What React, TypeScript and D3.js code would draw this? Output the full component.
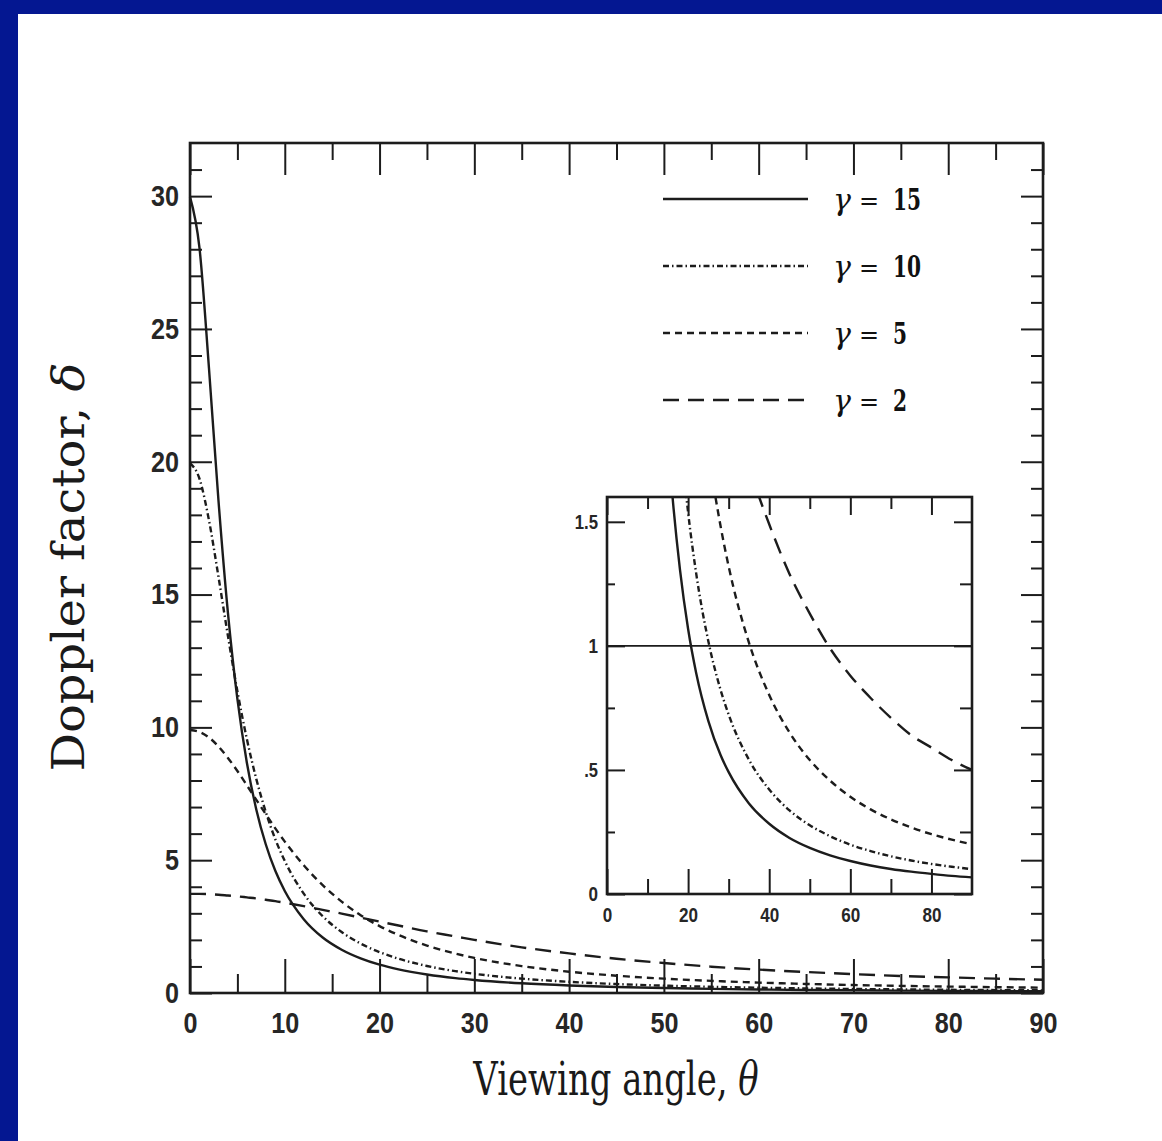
import React, { useEffect, useRef } from 'react';
import * as d3 from 'd3';

// viewing angle (deg) and Doppler factor
const angles = [0, 1, 2, 3, 4, 5, 6, 7, 8, 9, 10, 12, 14, 16, 18, 20, 22, 25, 28, 30, 35, 40, 45, 50, 55, 60, 65, 70, 75, 80, 85, 90];
const gamma15 = [29.97, 28.05, 23.53, 18.56, 14.32, 11.07, 8.67, 6.9, 5.59, 4.6, 3.84, 2.78, 2.09, 1.631, 1.306, 1.068, 0.89, 0.697, 0.56, 0.491, 0.365, 0.283, 0.226, 0.186, 0.156, 0.133, 0.115, 0.101, 0.09, 0.081, 0.073, 0.067];
const gamma10 = [19.95, 19.36, 17.8, 15.68, 13.45, 11.36, 9.56, 8.05, 6.81, 5.79, 4.97, 3.74, 2.89, 2.296, 1.862, 1.538, 1.291, 1.018, 0.823, 0.723, 0.541, 0.421, 0.337, 0.277, 0.233, 0.199, 0.173, 0.152, 0.135, 0.121, 0.11, 0.1];
const gamma5 = [9.9, 9.83, 9.62, 9.28, 8.85, 8.36, 7.82, 7.27, 6.73, 6.2, 5.7, 4.81, 4.06, 3.44, 2.93, 2.52, 2.185, 1.786, 1.483, 1.32, 1.013, 0.802, 0.651, 0.54, 0.457, 0.392, 0.341, 0.301, 0.268, 0.241, 0.219, 0.2];
const gamma2 = [3.73, 3.73, 3.72, 3.7, 3.67, 3.64, 3.6, 3.56, 3.51, 3.46, 3.4, 3.27, 3.13, 2.99, 2.84, 2.69, 2.54, 2.32, 2.13, 2.0, 1.72, 1.49, 1.29, 1.13, 0.99, 0.88, 0.79, 0.71, 0.64, 0.59, 0.54, 0.5];

const seriesNames = ['15', '10', '5', '2'];
const seriesValues = [gamma15, gamma10, gamma5, gamma2];
const dashes = ['none', '6,3,1.5,3', '7,5', '16,9'];

const xTicks = [0, 10, 20, 30, 40, 50, 60, 70, 80, 90];
const yTicks = [0, 5, 10, 15, 20, 25, 30];
const insetXTicks = [0, 20, 40, 60, 80];
const insetYTicks = [0, 0.5, 1, 1.5];
const insetYLabels = ['0', '.5', '1', '1.5'];

const INK = '#1c1c1c';
const TICK_FONT = '"Liberation Sans", Arial, sans-serif';
const SERIF = '"DejaVu Serif", "Liberation Serif", serif';

const App = () => {
  const svgRef = useRef<SVGSVGElement>(null);

  useEffect(() => {
    const svg = d3.select(svgRef.current);
    svg.selectAll('*').remove();

    // slide background
    svg.append('rect').attr('width', 1162).attr('height', 1141).attr('fill', '#fff');
    svg.append('rect').attr('width', 1162).attr('height', 14).attr('fill', '#041791');
    svg.append('rect').attr('width', 18).attr('height', 1141).attr('fill', '#041791');

    const x = d3.scaleLinear().domain([0, 90]).range([190, 1043]);
    const y = d3.scaleLinear().domain([0, 32]).range([993, 143]);

    // condensed look of the scanned tick digits
    const styleAxis = (g, size, digitW) => {
      g.select('.domain').remove();
      g.selectAll('line').attr('stroke', INK).attr('stroke-width', 2);
      g.attr('font-family', TICK_FONT).attr('font-size', size).attr('font-weight', 'bold');
      g.selectAll('text')
        .attr('fill', '#262626')
        .each(function () {
          const s = d3.select(this).text();
          if (!s) return;
          const n = s.split('').reduce((a, c) => a + (c === '.' ? 0.45 : 1), 0);
          d3.select(this).attr('textLength', n * digitW).attr('lengthAdjust', 'spacingAndGlyphs');
        });
    };

    const drawAxes = (xs, ys, o) => {
      const [x0, x1] = xs.range();
      const [yb, yt] = ys.range();
      const blank = () => '';
      const add = (axis, tr) => {
        const g = svg.append('g').attr('transform', tr).call(axis);
        styleAxis(g, o.font, o.digitW);
        return g;
      };
      add(d3.axisBottom(xs).tickValues(o.xMajor).tickSize(-o.xMajorLen).tickPadding(o.xPad).tickFormat(d3.format('d')), `translate(0,${yb})`);
      add(d3.axisBottom(xs).tickValues(o.xMinor).tickSize(-o.xMinorLen).tickFormat(blank), `translate(0,${yb})`);
      add(d3.axisTop(xs).tickValues(o.xMajor).tickSize(-o.xTopMajor).tickFormat(blank), `translate(0,${yt})`);
      add(d3.axisTop(xs).tickValues(o.xMinor).tickSize(-o.xTopMinor).tickFormat(blank), `translate(0,${yt})`);
      add(d3.axisLeft(ys).tickValues(o.yMajor).tickSize(-o.yMajorLen).tickPadding(o.yPad).tickFormat(o.yFormat), `translate(${x0},0)`);
      add(d3.axisLeft(ys).tickValues(o.yMinor).tickSize(-o.yMinorLen).tickFormat(blank), `translate(${x0},0)`);
      add(d3.axisRight(ys).tickValues(o.yMajor).tickSize(-o.yMajorLen).tickFormat(blank), `translate(${x1},0)`);
      add(d3.axisRight(ys).tickValues(o.yMinor).tickSize(-o.yRightMinor).tickFormat(blank), `translate(${x1},0)`);
      svg.append('rect')
        .attr('x', x0).attr('y', yt)
        .attr('width', x1 - x0).attr('height', yb - yt)
        .attr('fill', 'none').attr('stroke', INK).attr('stroke-width', 2.6);
    };

    // main panel curves
    const line = d3.line<number>()
      .x((_, i) => x(angles[i]))
      .y(d => y(d))
      .curve(d3.curveMonotoneX);

    seriesValues.forEach((vals, i) => {
      svg.append('path')
        .datum(vals)
        .attr('fill', 'none')
        .attr('stroke', INK)
        .attr('stroke-width', 2.4)
        .attr('stroke-dasharray', dashes[i])
        .attr('d', line);
    });

    drawAxes(x, y, {
      xMajor: xTicks,
      xMinor: d3.range(5, 90, 10),
      xMajorLen: 34, xMinorLen: 19, xTopMajor: 32, xTopMinor: 17, xPad: 19,
      yMajor: yTicks,
      yMinor: d3.range(1, 32).filter(v => v % 5 !== 0),
      yMajorLen: 22, yMinorLen: 12, yRightMinor: 12, yPad: 11,
      yFormat: d3.format('d'),
      font: 29, digitW: 14,
    });

    // legend
    const legend = svg.append('g');
    seriesNames.forEach((name, i) => {
      const ly = 199 + i * 67;
      legend.append('line')
        .attr('x1', 663).attr('x2', 808)
        .attr('y1', ly).attr('y2', ly)
        .attr('stroke', INK).attr('stroke-width', 2.4)
        .attr('stroke-dasharray', dashes[i]);
      const t = legend.append('text')
        .attr('y', ly + 11)
        .attr('font-family', SERIF)
        .attr('font-size', 30)
        .attr('fill', '#111');
      t.append('tspan').attr('x', 833).attr('font-style', 'italic').text('γ');
      t.append('tspan').attr('x', 859).attr('font-size', 24).attr('dy', -1).text('=');
      t.append('tspan').attr('x', 893).attr('dy', 1).attr('font-weight', 'bold')
        .attr('textLength', name.length * 14).attr('lengthAdjust', 'spacingAndGlyphs').text(name);
    });

    // inset panel
    const ix = d3.scaleLinear().domain([0, 90]).range([607, 972]);
    const iy = d3.scaleLinear().domain([0, 1.6]).range([894, 497]);

    svg.append('rect')
      .attr('x', 607).attr('y', 497).attr('width', 365).attr('height', 397)
      .attr('fill', '#fff');
    svg.append('clipPath').attr('id', 'inset-clip')
      .append('rect').attr('x', 607).attr('y', 497).attr('width', 365).attr('height', 397);

    svg.append('line')
      .attr('x1', ix(0)).attr('x2', ix(90))
      .attr('y1', iy(1)).attr('y2', iy(1))
      .attr('stroke', INK).attr('stroke-width', 1.8);

    const iline = d3.line<number>()
      .x((_, i) => ix(angles[i]))
      .y(d => iy(d))
      .curve(d3.curveMonotoneX);

    const curves = svg.append('g').attr('clip-path', 'url(#inset-clip)');
    seriesValues.forEach((vals, i) => {
      curves.append('path')
        .datum(vals)
        .attr('fill', 'none')
        .attr('stroke', INK)
        .attr('stroke-width', 2.4)
        .attr('stroke-dasharray', dashes[i])
        .attr('d', iline);
    });

    drawAxes(ix, iy, {
      xMajor: insetXTicks,
      xMinor: [10, 30, 50, 70],
      xMajorLen: 25, xMinorLen: 15, xTopMajor: 18, xTopMinor: 12, xPad: 14,
      yMajor: insetYTicks,
      yMinor: [0.25, 0.75, 1.25],
      yMajorLen: 18, yMinorLen: 8, yRightMinor: 12, yPad: 9,
      yFormat: (d, i) => insetYLabels[i],
      font: 20, digitW: 9.5,
    });

    // axis titles, squeezed/stretched with a transform like the scan
    const title = (tr, words, symbol) => {
      const t = svg.append('text')
        .attr('transform', tr)
        .attr('text-anchor', 'middle')
        .attr('font-family', SERIF)
        .attr('font-size', 44)
        .attr('fill', '#1a1a1a');
      t.append('tspan').text(words);
      t.append('tspan').attr('font-style', 'italic').text(symbol);
    };

    title('translate(84,567) rotate(-90) scale(1.09,1)', 'Doppler factor, ', 'δ');
    title('translate(616,1095) scale(0.77,1.05)', 'Viewing angle, ', 'θ');
  }, []);

  return (
    <div style={{ position: 'absolute', left: 0, top: 0 }}>
      <svg ref={svgRef} width={1162} height={1141} style={{ display: 'block' }} />
    </div>
  );
};

export default App;
